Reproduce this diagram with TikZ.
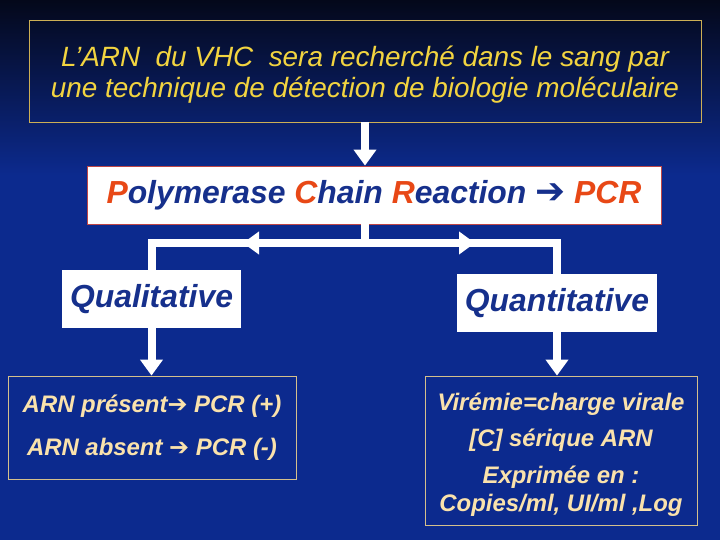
\documentclass[tikz,border=0pt]{standalone}
\usepackage{fontspec}
\setmainfont{Liberation Sans}
\newfontfamily\arrowfont{DejaVu Sans}
\usepackage{tikz}
\usepackage{xcolor}
\usetikzlibrary{arrows.meta}

\definecolor{bgblue}{RGB}{12,42,142}
\definecolor{bgtop}{RGB}{4,8,26}
\definecolor{goldline}{RGB}{205,175,85}
\definecolor{topyellow}{RGB}{242,212,64}
\definecolor{navytext}{RGB}{22,48,140}
\definecolor{pcrred}{RGB}{232,72,22}
\definecolor{pcrline}{RGB}{190,70,70}
\definecolor{tanline}{RGB}{212,192,140}
\definecolor{beige}{RGB}{250,226,172}

\newcommand\red[1]{\textcolor{pcrred}{#1}}
\newcommand\fat[1]{{\arrowfont\mdseries\upshape\fontsize{#1}{#1}\selectfont ➔}}

\tikzset{
  topbox/.style={draw=goldline, line width=0.8bp, minimum width=672bp, minimum height=102bp,
    text=topyellow, font=\fontsize{28}{31}\selectfont\itshape},
  pcrbox/.style={draw=pcrline, line width=0.8bp, fill=white, minimum width=574bp, minimum height=58bp,
    text=navytext, font=\fontsize{32}{34}\selectfont\bfseries\itshape},
  kindbox/.style={fill=white, minimum height=58bp, text=navytext,
    font=\fontsize{32}{34}\selectfont\bfseries\itshape},
  resbox/.style={draw=tanline, line width=0.8bp, fill=bgblue, align=center, text=beige},
  conn/.style={draw=white, line width=8bp},
}

\begin{document}
\begin{tikzpicture}[x=1bp,y=-1bp,>={Triangle[width=22bp,length=16bp]}]

\useasboundingbox (0,0) rectangle (720,540);
\fill[bgblue] (0,0) rectangle (720,540);
\shade[top color=bgtop, bottom color=bgblue] (0,0) rectangle (720,175);

\node[topbox] (arn) at (365,71) {\raisebox{-5bp}[\height][\depth]{\begin{tabular}{@{}c@{}}L’ARN\ \ du VHC\ \ sera recherché dans le sang par\\une technique de détection de biologie moléculaire\end{tabular}}};
\node[pcrbox] (pcr) at (374,195) {\red{P}olymerase \red{C}hain \red{R}eaction \fat{36}\ \red{PCR}};
\node[kindbox, minimum width=179bp] (ql) at (151.5,299) {Qualitative};
\node[kindbox, minimum width=200bp] (qn) at (557,303) {Quantitative};

\node[resbox, minimum width=288bp, minimum height=103bp, font=\fontsize{24}{43}\selectfont\bfseries\itshape] (pres) at (152,427.5)
  {ARN présent\fat{24}\ PCR (+)\\ARN absent \fat{24}\ PCR (-)};
\node[resbox, minimum width=272bp, minimum height=149bp, font=\fontsize{24}{28}\selectfont\bfseries\itshape] (vir) at (561,450.5)
  {\raisebox{-5bp}[\height][\depth]{\begin{tabular}{@{}c@{}}Virémie=charge virale\\[8bp][C] sérique ARN\\[9bp]Exprimée en :\\Copies/ml, UI/ml ,Log\end{tabular}}};

\coordinate (j) at (arn.south |- 0,243);
\coordinate (la) at (243,243);
\coordinate (ra) at (475,243);

\draw[conn] (arn.south |- pcr.south) -- (j);
\draw[conn] (j) -- (ql.north |- j) -- (ql.north);
\draw[conn] (j) -- (qn.north |- j) -- (qn.north);
\draw[conn, ->] (j) -- (la);
\draw[conn, ->] (j) -- (ra);
\draw[conn, ->] (arn.south) -- (arn.south |- pcr.north);
\draw[conn, ->] (ql.south) -- (ql.south |- pres.north);
\draw[conn, ->] (qn.south) -- (qn.south |- vir.north);

\end{tikzpicture}
\end{document}
